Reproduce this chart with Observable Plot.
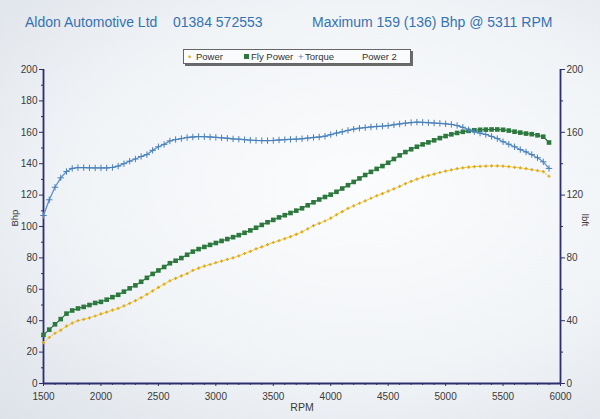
<!DOCTYPE html>
<html>
<head>
<meta charset="utf-8">
<script src="https://cdn.jsdelivr.net/npm/d3@7"></script>
<script src="https://cdn.jsdelivr.net/npm/@observablehq/plot@0.6"></script>
<style>
  html, body { margin: 0; padding: 0; }
  body {
    width: 600px; height: 419px; overflow: hidden; position: relative;
    font-family: "Liberation Sans", Arial, sans-serif;
    background: radial-gradient(ellipse at 60% 45%, #fbfcfd 0%, #f1f4f7 55%, #dde2e9 100%);
  }
  #chart { position: absolute; left: 0; top: 0; }
  .title { position: absolute; top: 14px; font-size: 14px; color: #3572b4; white-space: nowrap; }
  #legend {
    position: absolute; left: 183px; top: 49px; width: 226px; height: 13px;
    border: 1px solid #666; background: #fafbfc; box-shadow: 2px 2px 0 #6a6a6a;
    font-size: 9.5px; color: #333;
  }
  #legend span { position: absolute; top: 0px; line-height: 13px; white-space: nowrap; }
</style>
</head>
<body>
<div id="chart"></div>
<div class="title" style="left:25px">Aldon Automotive Ltd</div>
<div class="title" style="left:173px">01384 572553</div>
<div class="title" style="left:312px">Maximum 159 (136) Bhp @ 5311 RPM</div>
<div id="legend">
  <span style="left:4px;color:#e0b21c">•</span>
  <span style="left:12px">Power</span>
  <span style="left:60px;top:4px;width:5px;height:5px;background:#2b7a3b"></span>
  <span style="left:67px">Fly Power</span>
  <span style="left:114px;color:#4a80b8">+</span>
  <span style="left:121px">Torque</span>
  <span style="left:178px">Power 2</span>
</div>
<script>
// RPM sample points
const rpm = [1500,1550,1600,1650,1700,1750,1800,1850,1900,1950,
  2000,2050,2100,2150,2200,2250,2300,2350,2400,2450,
  2500,2550,2600,2650,2700,2750,2800,2850,2900,2950,
  3000,3050,3100,3150,3200,3250,3300,3350,3400,3450,
  3500,3550,3600,3650,3700,3750,3800,3850,3900,3950,
  4000,4050,4100,4150,4200,4250,4300,4350,4400,4450,
  4500,4550,4600,4650,4700,4750,4800,4850,4900,4950,
  5000,5050,5100,5150,5200,5250,5300,5350,5400,5450,
  5500,5550,5600,5650,5700,5750,5800,5850,5900];

// Power (Bhp, yellow)
const power = [26,29.3,32,34,36.5,38.5,40,40.8,41.8,43,
  44.3,45.5,46.7,47.8,49.4,51,52.8,54.7,56.8,59,
  61.2,63.3,65.4,67,68.5,70,72,73.5,74.8,75.8,
  77,78,79,80,81.3,82.8,84.2,85.7,87,88.5,
  89.8,91,92.3,93.6,95,96.6,98.5,100.5,102,103.5,
  105.3,107.5,109.5,111.5,113.2,114.8,116.3,118,119.6,121,
  122.5,124,125.5,127.3,128.8,130.2,131.4,132.5,133.4,134.4,
  135.3,136.1,136.8,137.4,137.8,138.1,138.3,138.5,138.6,138.6,
  138.4,138.1,137.7,137.3,136.8,136.2,135.6,135,132];

// Fly Power (Bhp, green)
const flyPower = [31,34.3,37.7,41,44.5,46.5,47.8,48.8,50,51.3,
  52,53.4,55,56.5,58.5,60.6,62.5,64.8,67.3,69.8,
  72,74.2,76.6,78.2,79.9,82,84,85.6,87,88.3,
  89.5,90.8,92,93.2,94.5,96,97.5,99.2,101,102.7,
  104.2,105.8,107.2,108.6,110.1,111.6,113.5,115.4,117.2,118.8,
  120.3,122.1,124.2,126.3,128.4,130.6,132.8,134.8,136.7,138.5,
  140.6,143,145.3,147.4,149.2,150.8,152.3,153.6,154.9,156.3,
  157.6,158.7,159.6,160.3,160.9,161.3,161.6,161.7,161.8,161.8,
  161.6,161.1,160.4,159.8,159.2,158.8,158.1,157.2,153.5];

// Torque (lbft, blue)
const torque = [107,117,125,131,135,137,137.5,137.5,137.4,137.3,
  137.3,137.3,137.6,138.5,140,141.6,143,144.6,145.8,148.5,
  150.8,152.3,154.5,155.4,156,156.7,157,157.3,157.2,157,
  156.8,156.5,156.2,155.8,155.6,155.3,155,154.8,154.7,154.7,
  154.8,155.1,155.3,155.5,155.7,155.9,156.3,156.7,157,157.5,
  158.5,159.5,160.3,161.2,162,162.6,163,163.4,163.7,163.9,
  164.2,164.8,165.3,165.8,166.2,166.5,166.3,166.1,165.9,165.7,
  165.4,165,164.3,163.2,161.6,160.4,159.5,158.6,157.4,156,
  154,152.4,150.8,149,147.5,145.8,143.8,141.2,137];

// Axis ticks
const xTicks = [1500,2000,2500,3000,3500,4000,4500,5000,5500,6000];
const xMinor = [1600,1700,1800,1900,2100,2200,2300,2400,2600,2700,2800,2900,3100,3200,3300,3400,3600,3700,3800,3900,4100,4200,4300,4400,4600,4700,4800,4900,5100,5200,5300,5400,5600,5700,5800,5900];
const yLeftTicks = [0,20,40,60,80,100,120,140,160,180,200];
const yLeftMinor = [10,30,50,70,90,110,130,150,170,190];
const yRightTicks = [0,40,80,120,160,200];
const yRightMinor = [20,60,100,140,180];

const rows = rpm.map((r, i) => ({rpm: r, power: power[i], fly: flyPower[i], torque: torque[i]}));

const plusSym = {
  draw(ctx, size) {
    const r = Math.sqrt(size / Math.PI);
    ctx.moveTo(-r, 0); ctx.lineTo(r, 0);
    ctx.moveTo(0, -r); ctx.lineTo(0, r);
  }
};

const navy = "#2c2f6e";
const chart = Plot.plot({
  width: 600, height: 419,
  marginLeft: 43, marginRight: 40, marginTop: 69, marginBottom: 36,
  style: {background: "transparent", fontFamily: "Liberation Sans, Arial, sans-serif", fontSize: "10px", color: "#3a3a3a"},
  x: {domain: [1500, 6000], axis: null},
  y: {domain: [0, 200], axis: null},
  marks: [
    // axes
    Plot.axisX({ticks: xTicks, tickFormat: d => String(d), tickSize: 3, tickPadding: 6, stroke: navy, fill: "#3a3a3a", label: null, fontSize: 10}),
    Plot.axisX({ticks: xMinor, tickSize: 2, text: null, stroke: navy, label: null}),
    Plot.axisY({anchor: "left", ticks: yLeftTicks, tickSize: 4, tickPadding: 2, stroke: navy, fill: "#3a3a3a", label: null, fontSize: 10}),
    Plot.axisY({anchor: "left", ticks: yLeftMinor, tickSize: 2, text: null, stroke: navy, label: null}),
    Plot.axisY({anchor: "right", ticks: yRightTicks, tickSize: 4, tickPadding: 2, stroke: navy, fill: "#3a3a3a", label: null, fontSize: 10}),
    Plot.axisY({anchor: "right", ticks: yRightMinor, tickSize: 2, text: null, stroke: navy, label: null}),
    Plot.ruleX([1500, 6000], {stroke: navy, strokeWidth: 1.8}),
    Plot.ruleY([0], {stroke: navy, strokeWidth: 1.8}),
    Plot.text([0], {frameAnchor: "left", dx: -29, rotate: -90, text: () => "Bhp", fontSize: 9.5, fill: "#3a3a3a"}),
    Plot.text([0], {frameAnchor: "right", dx: 25, rotate: 90, text: () => "lbft", fontSize: 9.5, fill: "#3a3a3a"}),
    Plot.text([0], {frameAnchor: "bottom", dy: 27, text: () => "RPM", fontSize: 10.5, fill: "#3a3a3a"}),
    // Power (yellow)
    Plot.line(rows, {x: "rpm", y: "power", stroke: "#efcb3a", strokeWidth: 1, strokeDasharray: "2.5,1.2"}),
    Plot.dot(rows, {x: "rpm", y: "power", symbol: plusSym, r: 1.6, stroke: "#e0a81c", strokeWidth: 1.2, fill: "none"}),
    // Fly power (green)
    Plot.line(rows, {x: "rpm", y: "fly", stroke: "#285f4a", strokeWidth: 1.1}),
    Plot.dot(rows, {x: "rpm", y: "fly", symbol: "square", r: 2.6, fill: "#2b7a3b", stroke: "none"}),
    // Torque (blue)
    Plot.line(rows, {x: "rpm", y: "torque", stroke: "#5b93cc", strokeWidth: 1.3}),
    Plot.dot(rows, {x: "rpm", y: "torque", symbol: plusSym, r: 3.2, stroke: "#4a80b8", strokeWidth: 1, fill: "none"})
  ]
});
document.getElementById("chart").appendChild(chart);
</script>
</body>
</html>
